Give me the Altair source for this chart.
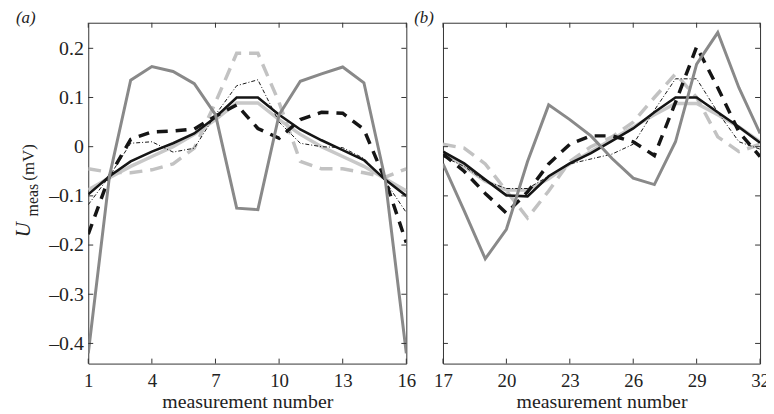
import altair as alt
import pandas as pd

# measurement numbers
m_a = list(range(1, 17))
m_b = list(range(17, 33))

# series values (mV), panel (a) and panel (b)
gray_solid_a = [-0.42, -0.06, 0.135, 0.163, 0.153, 0.128, 0.065, -0.125, -0.128, 0.065, 0.133, 0.148, 0.162, 0.13, -0.065, -0.42]
gray_solid_b = [-0.035, -0.13, -0.228, -0.168, -0.03, 0.085, 0.055, 0.022, -0.024, -0.064, -0.077, 0.01, 0.168, 0.232, 0.12, 0.027]

light_dash_a = [-0.045, -0.052, -0.053, -0.047, -0.035, -0.003, 0.09, 0.19, 0.19, 0.09, -0.03, -0.045, -0.045, -0.053, -0.062, -0.045]
light_dash_b = [0.005, -0.003, -0.035, -0.09, -0.145, -0.09, -0.03, 0.0, 0.02, 0.05, 0.1, 0.148, 0.1, 0.02, -0.01, 0.005]

black_dash_a = [-0.178, -0.06, 0.015, 0.03, 0.032, 0.036, 0.062, 0.085, 0.037, 0.017, 0.055, 0.07, 0.068, 0.035, -0.067, -0.195]
black_dash_b = [-0.015, -0.05, -0.095, -0.135, -0.092, -0.035, 0.005, 0.022, 0.022, 0.01, -0.018, 0.09, 0.203, 0.12, 0.03, -0.02]

black_solid_a = [-0.097, -0.06, -0.03, -0.01, 0.007, 0.027, 0.06, 0.1, 0.1, 0.065, 0.035, 0.013, -0.007, -0.027, -0.067, -0.1]
black_solid_b = [-0.01, -0.034, -0.067, -0.099, -0.101, -0.06, -0.034, -0.013, 0.012, 0.037, 0.07, 0.1, 0.1, 0.07, 0.04, 0.008]

dashdot_a = [-0.118, -0.06, 0.007, 0.01, -0.011, -0.003, 0.065, 0.124, 0.136, 0.05, 0.007, 0.0, -0.002, -0.024, -0.07, -0.134]
dashdot_b = [-0.02, -0.04, -0.07, -0.085, -0.085, -0.06, -0.035, -0.025, -0.015, 0.005, 0.074, 0.138, 0.138, 0.07, 0.01, -0.005]

light_solid_a = [-0.088, -0.063, -0.04, -0.02, 0.0, 0.025, 0.055, 0.089, 0.089, 0.055, 0.025, 0.0, -0.02, -0.04, -0.065, -0.09]
light_solid_b = [-0.01, -0.04, -0.07, -0.088, -0.088, -0.065, -0.035, -0.01, 0.015, 0.04, 0.065, 0.088, 0.088, 0.065, 0.04, 0.01]

x_ticks_a = [1, 4, 7, 10, 13, 16]
x_ticks_b = [17, 20, 23, 26, 29, 32]
y_ticks = [-0.4, -0.3, -0.2, -0.1, 0.0, 0.1, 0.2]
y_domain = [-0.441, 0.252]

# drawing order (bottom to top) and styles
series = [
    ("light_solid", light_solid_a, light_solid_b, "#c8c8c8", 3.5, None),
    ("light_dash", light_dash_a, light_dash_b, "#c2c2c2", 3.5, [13, 8]),
    ("black_solid", black_solid_a, black_solid_b, "#151515", 2.6, None),
    ("dashdot", dashdot_a, dashdot_b, "#151515", 1.0, [4, 2, 1, 2]),
    ("black_dash", black_dash_a, black_dash_b, "#151515", 3.5, [11, 8]),
    ("gray_solid", gray_solid_a, gray_solid_b, "#898989", 3.0, None),
]

rows = []
for name, va, vb, *_ in series:
    for m, v in zip(m_a, va):
        rows.append({"panel": "a", "s": name, "m": m, "v": v})
    for m, v in zip(m_b, vb):
        rows.append({"panel": "b", "s": name, "m": m, "v": v})
df = pd.DataFrame(rows)

W_A, W_B, H = 321, 320, 344
FONT = "Liberation Serif"
INK = "#222222"
TICK = 5


def panel(key, xdom, xticks, width, show_y, tag, tag_dx):
    xscale = alt.Scale(domain=xdom, nice=False, zero=False)
    yscale = alt.Scale(domain=y_domain, nice=False, zero=False)
    xaxis = alt.Axis(values=xticks, title="measurement number", ticks=False, domain=False,
                     grid=False, labelFont=FONT, labelFontSize=19, labelColor=INK,
                     labelPadding=8, titleFont=FONT, titleFontSize=20,
                     titleFontWeight="normal", titleColor=INK, titlePadding=1,
                     labelFlush=False, labelOverlap=False)
    if show_y:
        yaxis = alt.Axis(values=y_ticks, title=None, ticks=False, domain=False, grid=False,
                         labelFont=FONT, labelFontSize=20, labelColor=INK, labelPadding=5,
                         labelOverlap=False,
                         labelExpr="datum.value == 0 ? '0' : replace(replace(format(datum.value, '.1f'), '-', '\u2013'), '\u2212', '\u2013')")
    else:
        yaxis = alt.Axis(values=y_ticks, title=None, ticks=False, domain=False, grid=False,
                         labels=False)
    X = alt.X("m:Q", scale=xscale, axis=xaxis)
    Y = alt.Y("v:Q", scale=yscale, axis=yaxis)
    sub = df[df["panel"] == key]
    layers = []
    for name, _, _, color, sw, dash in series:
        kw = dict(color=color, strokeWidth=sw, strokeJoin="miter", strokeCap="butt", clip=True)
        if dash:
            kw["strokeDash"] = dash
        layers.append(alt.Chart(sub[sub["s"] == name]).mark_line(**kw).encode(x=X, y=Y))
    xt = pd.DataFrame({"m": xticks})
    yt = pd.DataFrame({"v": y_ticks})
    tick_style = dict(color="#333333", strokeWidth=1)
    layers.append(alt.Chart(xt).mark_rule(**tick_style).encode(
        x=X, y=alt.value(H), y2=alt.value(H - TICK)))
    layers.append(alt.Chart(xt).mark_rule(**tick_style).encode(
        x=X, y=alt.value(0), y2=alt.value(TICK)))
    layers.append(alt.Chart(yt).mark_rule(**tick_style).encode(
        y=Y, x=alt.value(0), x2=alt.value(TICK)))
    layers.append(alt.Chart(yt).mark_rule(**tick_style).encode(
        y=Y, x=alt.value(width - TICK), x2=alt.value(width)))
    tagdf = pd.DataFrame({"t": [tag]})
    layers.append(alt.Chart(tagdf).mark_text(font=FONT, fontSize=17, fontStyle="italic",
                                             align="left", baseline="alphabetic", color=INK).encode(
        x=alt.value(tag_dx), y=alt.value(0), text="t:N"))
    if show_y:
        ttl = pd.DataFrame({"t": ["U", "meas", "(mV)"]})
        layers.append(alt.Chart(ttl[ttl["t"] == "U"]).mark_text(
            font=FONT, fontSize=21, fontStyle="italic", angle=270, align="center",
            baseline="middle", color=INK).encode(x=alt.value(-64.5), y=alt.value(209), text="t:N"))
        layers.append(alt.Chart(ttl[ttl["t"] == "meas"]).mark_text(
            font=FONT, fontSize=16, angle=270, align="center",
            baseline="middle", color=INK).encode(x=alt.value(-55.5), y=alt.value(179), text="t:N"))
        layers.append(alt.Chart(ttl[ttl["t"] == "(mV)"]).mark_text(
            font=FONT, fontSize=17, angle=270, align="center",
            baseline="middle", color=INK).encode(x=alt.value(-59.5), y=alt.value(141), text="t:N"))
    return alt.layer(*layers).properties(width=width, height=H)


pa = panel("a", [1, 16], x_ticks_a, W_A, True, "(a)", -73)
pb = panel("b", [17, 32], x_ticks_b, W_B, False, "(b)", -29)

chart = alt.hconcat(pa, pb, spacing=37, bounds="flush").properties(
    padding={"left": 5, "top": -2, "right": -4, "bottom": 0},
    background="white",
).configure_view(stroke="#333333", strokeWidth=1)

chart.save("out.html", embed_options={"renderer": "svg", "actions": False})
